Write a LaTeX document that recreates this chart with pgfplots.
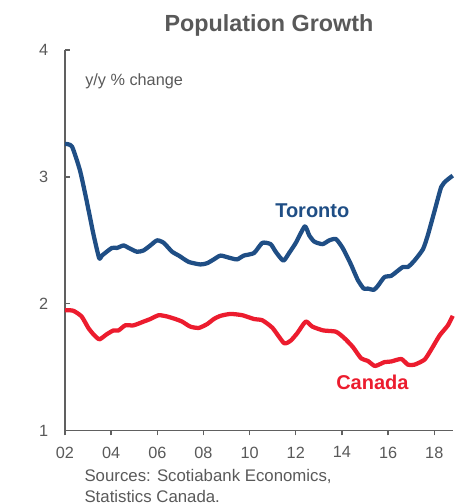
\documentclass[border=0pt]{standalone}
\usepackage{fontspec}
\setmainfont{Liberation Sans}
\usepackage{pgfplots}
\pgfplotsset{compat=1.18}
\definecolor{txtgray}{HTML}{595959}
\definecolor{axgray}{HTML}{606060}
\definecolor{torblue}{HTML}{1F4E85}
\definecolor{canred}{HTML}{EC1C2E}
\begin{document}
\begin{tikzpicture}
% 1 px of the reference = 0.75pt, origin at top-left, y downwards as negative
\useasboundingbox (0,0) rectangle (345pt,-378pt);
\begin{axis}[
    at={(48.75pt,-323.0pt)}, anchor=south west,
    scale only axis,
    width=290.8pt, height=285.5pt,
    xmin=2002, xmax=2018.8,
    ymin=1, ymax=4,
    axis x line*=bottom, axis y line*=left,
    axis line style={axgray, line width=1.2pt},
    xtick={2002,2004,...,2018},
    xticklabels={02,04,06,08,10,12,14,16,18},
    ytick={1,2,3,4},
    tick align=inside,
    major tick length=3.5pt,
    tick style={axgray, line width=1pt},
    xtick style={yshift=-3.5pt},
    /pgf/number format/assume math mode=true,
    ticklabel style={font=\fontsize{12.2}{14}\selectfont, text=txtgray},
    yticklabel style={xshift=-9pt},
    xticklabel style={yshift=-8.5pt},
    every axis plot/.append style={line width=3.2pt, line join=round, smooth, tension=0.35},
    clip=false,
]
\addplot[torblue] coordinates {
(2002.00,3.26) (2002.30,3.24) (2002.65,3.05) (2002.94,2.81) (2003.23,2.55)
(2003.48,2.36) (2003.60,2.38) (2004.03,2.44) (2004.25,2.44) (2004.54,2.46)
(2004.76,2.44) (2005.12,2.41) (2005.40,2.42) (2005.70,2.46) (2005.99,2.50)
(2006.28,2.48) (2006.64,2.41) (2006.93,2.38) (2007.36,2.33) (2007.87,2.31)
(2008.16,2.32) (2008.45,2.35) (2008.74,2.38) (2009.17,2.36) (2009.46,2.35)
(2009.75,2.38) (2010.19,2.40) (2010.55,2.48) (2010.91,2.47) (2011.13,2.41)
(2011.46,2.34) (2011.71,2.40) (2012.00,2.48) (2012.39,2.61) (2012.58,2.54)
(2012.80,2.49) (2013.16,2.47) (2013.45,2.50) (2013.74,2.51) (2014.03,2.44)
(2014.39,2.31) (2014.68,2.19) (2014.94,2.12) (2015.12,2.12) (2015.38,2.11)
(2015.55,2.14) (2015.84,2.21) (2016.13,2.22) (2016.35,2.25) (2016.64,2.29)
(2016.86,2.29) (2017.14,2.34) (2017.51,2.43) (2017.72,2.54) (2018.01,2.73)
(2018.30,2.92) (2018.52,2.97) (2018.80,3.01)
};
\addplot[canred] coordinates {
(2002.00,1.95) (2002.36,1.945) (2002.72,1.90) (2003.01,1.81) (2003.23,1.76)
(2003.49,1.72) (2003.81,1.76) (2004.10,1.79) (2004.32,1.79) (2004.61,1.83)
(2004.97,1.83) (2005.41,1.86) (2005.70,1.88) (2006.06,1.91) (2006.42,1.90)
(2006.78,1.88) (2007.07,1.86) (2007.43,1.82) (2007.80,1.81) (2008.16,1.84)
(2008.45,1.88) (2008.74,1.905) (2009.17,1.92) (2009.68,1.91) (2010.19,1.88)
(2010.55,1.87) (2010.99,1.81) (2011.49,1.69) (2011.78,1.71) (2012.07,1.77)
(2012.43,1.86) (2012.72,1.82) (2013.19,1.79) (2013.74,1.78) (2014.10,1.73)
(2014.47,1.66) (2014.83,1.57) (2015.12,1.55) (2015.43,1.51) (2015.84,1.54)
(2016.13,1.545) (2016.57,1.565) (2016.86,1.52) (2017.14,1.52) (2017.58,1.56)
(2017.87,1.64) (2018.23,1.75) (2018.59,1.83) (2018.80,1.905)
};
\end{axis}
\node[anchor=base, text=txtgray, font=\fontsize{17.5}{20}\selectfont\bfseries, inner sep=0pt] at (201.75pt,-23.8pt) {Population Growth};
\node[anchor=base west, text=txtgray, font=\fontsize{12.2}{14}\selectfont, inner sep=0pt] at (63.75pt,-63.75pt) {y/y \% change};
\node[anchor=base west, text=torblue, font=\fontsize{15}{18}\selectfont\bfseries, inner sep=0pt] at (206.25pt,-163.3pt) {Toronto};
\node[anchor=base west, text=canred, font=\fontsize{15}{18}\selectfont\bfseries, inner sep=0pt] at (252pt,-292pt) {Canada};
\node[anchor=base west, text=txtgray, font=\fontsize{12.6}{16.3}\selectfont, inner sep=0pt] at (63.2pt,-361.1pt) {Sources: Scotiabank Economics,};
\node[anchor=base west, text=txtgray, font=\fontsize{12.6}{16.3}\selectfont, inner sep=0pt] at (63.2pt,-376.6pt) {Statistics Canada.};
\end{tikzpicture}
\end{document}
